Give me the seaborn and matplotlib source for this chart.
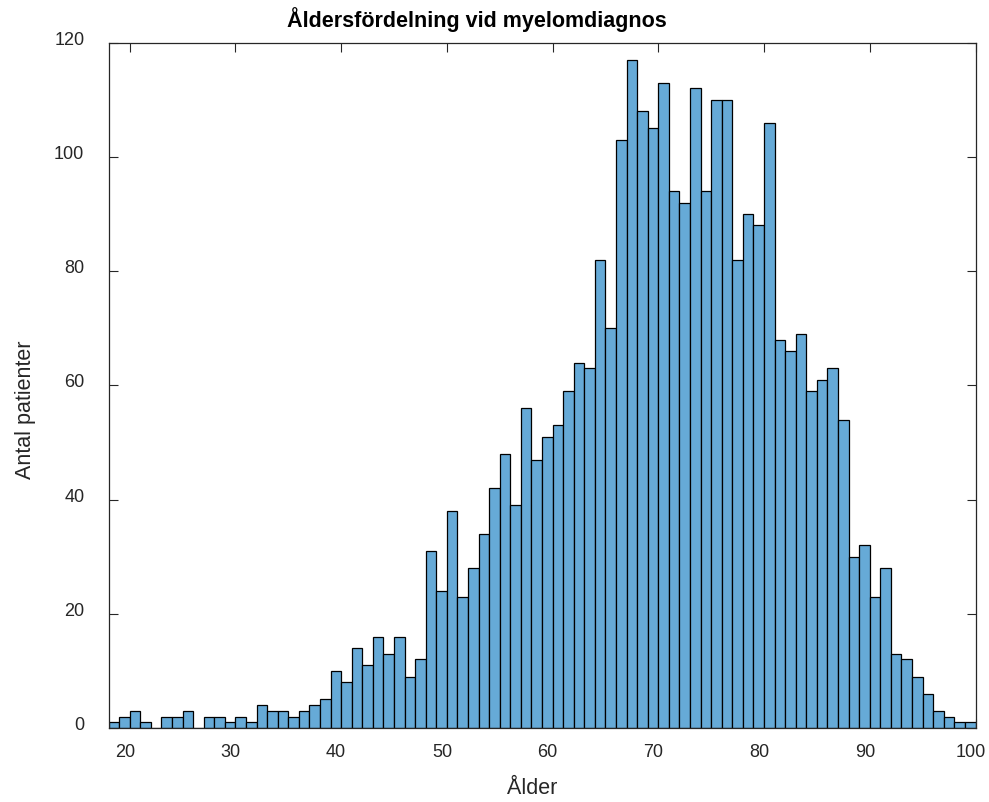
import numpy as np
import pandas as pd
import matplotlib
matplotlib.use("Agg")
import matplotlib.pyplot as plt
import matplotlib.transforms as mtransforms
import seaborn as sns

# Data: ages (left edge of 1-year bins) and patient counts
ages = list(range(18, 100))
counts = [1, 2, 3, 1, 0, 2, 2, 3, 0, 2,
          2, 1, 2, 1, 4, 3, 3, 2, 3, 4,
          5, 10, 8, 14, 11, 16, 13, 16, 9, 12,
          31, 24, 38, 23, 28, 34, 42, 48, 39, 56,
          47, 51, 53, 59, 64, 63, 82, 70, 103, 117,
          108, 105, 113, 94, 92, 112, 94, 110, 110, 82,
          90, 88, 106, 68, 66, 69, 59, 61, 63, 54,
          30, 32, 23, 28, 13, 12, 9, 6, 3, 2,
          1, 1]
xticks = [20, 30, 40, 50, 60, 70, 80, 90, 100]
yticks = [0, 20, 40, 60, 80, 100, 120]
title = "Åldersfördelning vid myelomdiagnos"
xlabel = "Ålder"
ylabel = "Antal patienter"

df = pd.DataFrame({"age": np.array(ages) + 0.5, "count": counts})

sns.set_theme(style="white")
plt.rcParams["font.family"] = ["Liberation Sans", "DejaVu Sans"]

fig = plt.figure(figsize=(9.89, 8.03), dpi=100)
ax = fig.add_axes([108.6 / 989, (803 - 729) / 803, (975.5 - 108.6) / 989, (729 - 43.7) / 803])

sns.histplot(data=df, x="age", weights="count", binwidth=1, binrange=(18, 100),
             color="#66AAD7", alpha=1.0, edgecolor="black", linewidth=0.9, ax=ax)

ax.set_xlim(18, 100)
ax.set_ylim(0, 120)
ax.set_xticks(xticks)
ax.set_yticks(yticks)
ax.set_xlabel("")
ax.set_ylabel("")
for s in ax.spines.values():
    s.set_visible(True)
    s.set_color("#262626")
    s.set_linewidth(0.9)
ax.tick_params(axis="both", which="both", direction="in", length=6.5, width=0.8,
               color="#262626", top=True, right=True, bottom=True, left=True,
               labelsize=13, labelcolor="#262626")
ax.tick_params(axis="x", pad=11)
ax.tick_params(axis="y", pad=17.5)

xoff = mtransforms.ScaledTranslation(-5 / 100, 0, fig.dpi_scale_trans)
for lab in ax.get_xticklabels():
    lab.set_transform(lab.get_transform() + xoff)
yoff = mtransforms.ScaledTranslation(0, 5.5 / 100, fig.dpi_scale_trans)
for lab in ax.get_yticklabels():
    lab.set_transform(lab.get_transform() + yoff)

fig.text(476.7 / 989, 1 - 20 / 803, title, ha="center", va="center",
         fontsize=15.5, fontweight="bold", color="black")
fig.text(532 / 989, 1 - 789 / 803, xlabel, ha="center", va="center",
         fontsize=15.5, color="#262626")
fig.text(25 / 989, 1 - 410 / 803, ylabel, ha="center", va="center",
         rotation=90, fontsize=15.5, color="#262626")

fig.savefig("out.png", dpi=100)
